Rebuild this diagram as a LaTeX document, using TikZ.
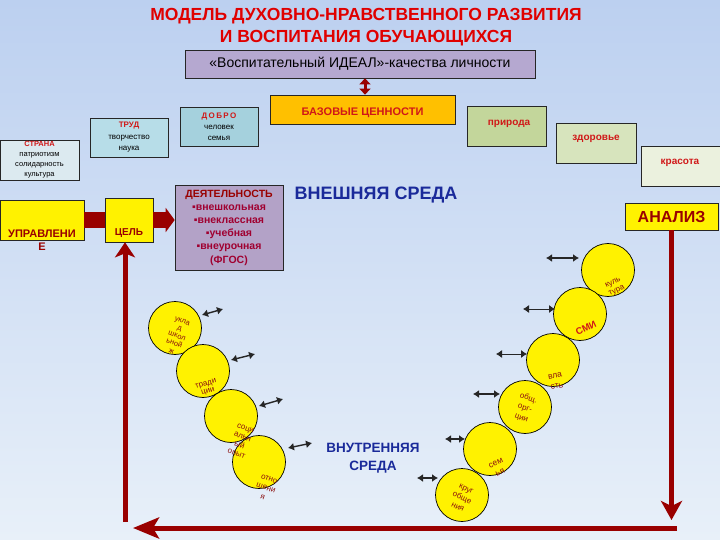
\documentclass[tikz,border=0pt]{standalone}
\usepackage{fontspec}
\setmainfont{Liberation Sans}
\usetikzlibrary{arrows.meta,calc}
\definecolor{bgtop}{HTML}{BCD0F0}
\definecolor{bgbot}{HTML}{E8F0F9}
\definecolor{idealc}{HTML}{B5A8D0}
\definecolor{basec}{HTML}{FFC000}
\definecolor{dobroc}{HTML}{A5D1DD}
\definecolor{trudc}{HTML}{B7DDE8}
\definecolor{stranac}{HTML}{DCEAF0}
\definecolor{prirodac}{HTML}{C3D69B}
\definecolor{zdorc}{HTML}{D7E4BD}
\definecolor{krasc}{HTML}{EBF1DE}
\definecolor{deyatc}{HTML}{B3A2C7}
\definecolor{txtred}{HTML}{D01818}
\definecolor{bandred}{HTML}{990000}
\definecolor{titred}{HTML}{E00000}
\definecolor{darkblue}{HTML}{1A2A9A}
\definecolor{ctxt}{HTML}{8B1010}
\definecolor{maroon}{HTML}{A00030}
\begin{document}
\begin{tikzpicture}[x=1pt,y=-1pt,
  box/.style={draw=black!85, line width=0.7pt, inner sep=0pt, align=center},
  ball/.style={circle, draw=black, line width=0.7pt, fill=yellow, minimum size=53pt, inner sep=0pt},
  ctext/.style={text=ctxt, font=\fontsize{8}{8}\selectfont, align=center, inner sep=0pt},
  dbl/.style={black!85, line width=1.4pt, {Latex[length=6pt,width=8pt]}-{Latex[length=6pt,width=8pt]}},
  band/.style={bandred, line width=16pt},
  bigline/.style={bandred, line width=5pt}
]
\shade[top color=bgtop, bottom color=bgbot] (0,0) rectangle (720,540);
\path[use as bounding box] (0,0) rectangle (720,540);

% title
\node[text=titred, font=\bfseries\fontsize{17.5}{22}\selectfont, align=center] (title) at (366,27.5)
  {МОДЕЛЬ ДУХОВНО-НРАВСТВЕННОГО РАЗВИТИЯ\\И ВОСПИТАНИЯ ОБУЧАЮЩИХСЯ};

% ideal
\node[box, fill=idealc, minimum width=350pt, minimum height=28pt,
  font=\fontsize{14}{16}\selectfont] (ideal) at (360,64)
  {«Воспитательный ИДЕАЛ»-качества личности};

% base values
\node[box, fill=basec, minimum width=185pt, minimum height=29pt] (base) at (362.5,109.5) {};
\node[text=txtred, font=\bfseries\fontsize{11}{12}\selectfont] (baset) at (362.5,113) {БАЗОВЫЕ ЦЕННОСТИ};
\coordinate (mx) at (365,0);
\draw[bandred, line width=3pt, {Triangle[width=11pt,length=6pt]}-{Triangle[width=11pt,length=6pt]}]
  (ideal.south -| mx) -- (base.north -| mx);

% left value boxes
\node[box, fill=stranac, minimum width=79pt, minimum height=40pt,
  font=\fontsize{7.5}{10}\selectfont] (strana) at (39.5,160)
  {\textcolor{txtred}{\bfseries СТРАНА}\\патриотизм\\солидарность\\культура};
\node[box, fill=trudc, minimum width=78pt, minimum height=39pt,
  font=\fontsize{8}{11.5}\selectfont] (trud) at (129,137.5)
  {\textcolor{txtred}{\bfseries ТРУД}\\творчество\\наука};
\node[box, fill=dobroc, minimum width=78pt, minimum height=39pt,
  font=\fontsize{8}{11}\selectfont] (dobro) at (219,126.5)
  {\textcolor{txtred}{\bfseries Д\,О\,Б\,Р\,О}\\человек\\семья};

% right value boxes
\node[box, fill=prirodac, minimum width=79pt, minimum height=40pt] (priroda) at (506.5,126) {};
\node[text=txtred, font=\bfseries\fontsize{10}{11}\selectfont] (pritxt) at (509,124) {природа};
\node[box, fill=zdorc, minimum width=80pt, minimum height=40pt] (zdor) at (596,143) {};
\node[text=txtred, font=\bfseries\fontsize{10}{11}\selectfont] (zdtxt) at (596,139) {здоровье};
\node[box, fill=krasc, minimum width=80pt, minimum height=40pt] (kras) at (681,166) {};
\node[text=txtred, font=\bfseries\fontsize{10}{11}\selectfont] (krtxt) at (680,163) {красота};

% external environment
\node[text=darkblue, font=\bfseries\fontsize{18}{20}\selectfont] (vnesh) at (376,195) {ВНЕШНЯЯ СРЕДА};

% activity
\node[box, fill=deyatc, minimum width=108pt, minimum height=85pt, text=maroon,
  font=\bfseries\fontsize{10.5}{13.2}\selectfont] (deyat) at (229,227.5)
  {\textcolor{bandred}{ДЕЯТЕЛЬНОСТЬ}\\▪внешкольная\\▪внеклассная\\▪учебная\\▪внеурочная\\(ФГОС)};

% management & goal
\node[box, fill=yellow, minimum width=84pt, minimum height=40pt] (upr) at (42,220) {};
\node[text=bandred, font=\bfseries\fontsize{11}{13}\selectfont, align=center] (uprt) at (42,240.5) {УПРАВЛЕНИ\\Е};
\node[box, fill=yellow, minimum width=48pt, minimum height=44pt] (cel) at (129,220) {};
\node[text=bandred, font=\bfseries\fontsize{10}{12}\selectfont] (celt) at (129,233) {ЦЕЛЬ};

\draw[band] (upr.east) -- (cel.west);
\draw[band, -{Triangle[width=24pt,length=9pt]}] (cel.east) -- (cel.east -| deyat.west);

% analysis
\node[box, fill=yellow, minimum width=93pt, minimum height=27pt, text=bandred,
  font=\bfseries\fontsize{16}{18}\selectfont] (anal) at (671.5,216.5) {АНАЛИЗ};

% big frame arrows
\coordinate (br) at (673,520);
\coordinate (br2) at (677,528);
\coordinate (bl2) at (133,528);
\coordinate (bl) at (125,522);
\draw[bigline, -{Stealth[length=19pt,width=21pt,inset=5pt]}] (anal.south) -- (anal.south |- br);
\draw[bigline, -{Stealth[length=26pt,width=21pt,inset=6pt]}] (br2) -- (bl2);
\draw[bigline, -{Stealth[length=15pt,width=20pt,inset=4pt]}] (bl) -- (bl |- cel.south);

% internal environment
\node[text=darkblue, font=\bfseries\fontsize{13.5}{18}\selectfont, align=center] (vnutr) at (373,458) {ВНУТРЕННЯЯ\\СРЕДА};

% left circles
\node[ball] (c1) at (175,328) {};
\node[ball] (c2) at (203,371) {};
\node[ball] (c3) at (231,416) {};
\node[ball] (c4) at (259,462) {};
\node[ctext, rotate=-20, font=\fontsize{7.5}{8}\selectfont] (c1t) at (177,336) {укла\\д\\школ\\ьной\\ж};
\node[ctext, rotate=15] (c2t) at (207,388) {тради\\ции};
\node[ctext, rotate=-20, font=\fontsize{8}{9}\selectfont] (c3t) at (241,441) {соци\\альн\\ый\\опыт};
\node[ctext, rotate=-20, font=\fontsize{8}{9.5}\selectfont] (c4t) at (266,488) {отно\\шени\\я};

% left double arrows
\coordinate (a1s) at (202,315); \coordinate (a1e) at (223,309);
\coordinate (a2s) at (231,360); \coordinate (a2e) at (255,354);
\coordinate (a3s) at (259,406); \coordinate (a3e) at (283,399);
\coordinate (a4s) at (288,448); \coordinate (a4e) at (312,443);
\draw[dbl] (a1s) -- (a1e);
\draw[dbl] (a2s) -- (a2e);
\draw[dbl] (a3s) -- (a3e);
\draw[dbl] (a4s) -- (a4e);

% right circles
\node[ball] (r1) at (608,270) {};
\node[ball] (r2) at (580,314) {};
\node[ball] (r3) at (553,360) {};
\node[ball] (r4) at (525,407) {};
\node[ball] (r5) at (490,449) {};
\node[ball] (r6) at (462,495) {};
\node[ctext, rotate=25, font=\fontsize{8}{9}\selectfont] (r1t) at (615,287) {куль\\тура};
\node[ctext, rotate=25, font=\bfseries\fontsize{9.5}{10}\selectfont, text=txtred] (r2t) at (586,328) {СМИ};
\node[ctext, rotate=10, font=\fontsize{8.5}{11}\selectfont] (r3t) at (556,381) {вла\\сть};
\node[ctext, rotate=-20, font=\fontsize{8}{10.5}\selectfont] (r4t) at (525,408) {общ.\\орг-\\ции};
\node[ctext, rotate=25, font=\fontsize{8.5}{10}\selectfont] (r5t) at (498,468) {сем\\ья};
\node[ctext, rotate=-25, font=\fontsize{8}{10}\selectfont] (r6t) at (462,498) {круг\\обще\\ния};

% right double arrows
\coordinate (b1s) at (546,258); \coordinate (b1e) at (579,258);
\coordinate (b2s) at (523,309); \coordinate (b2e) at (555,309);
\coordinate (b3s) at (496,354); \coordinate (b3e) at (527,354);
\coordinate (b4s) at (473,394); \coordinate (b4e) at (500,394);
\coordinate (b5s) at (445,439); \coordinate (b5e) at (465,439);
\coordinate (b6s) at (417,478); \coordinate (b6e) at (438,478);
\draw[dbl] (b1s) -- (b1e);
\draw[dbl, line width=0.8pt] (b2s) -- (b2e);
\draw[dbl, line width=0.8pt] (b3s) -- (b3e);
\draw[dbl] (b4s) -- (b4e);
\draw[dbl] (b5s) -- (b5e);
\draw[dbl] (b6s) -- (b6e);
\end{tikzpicture}
\end{document}
